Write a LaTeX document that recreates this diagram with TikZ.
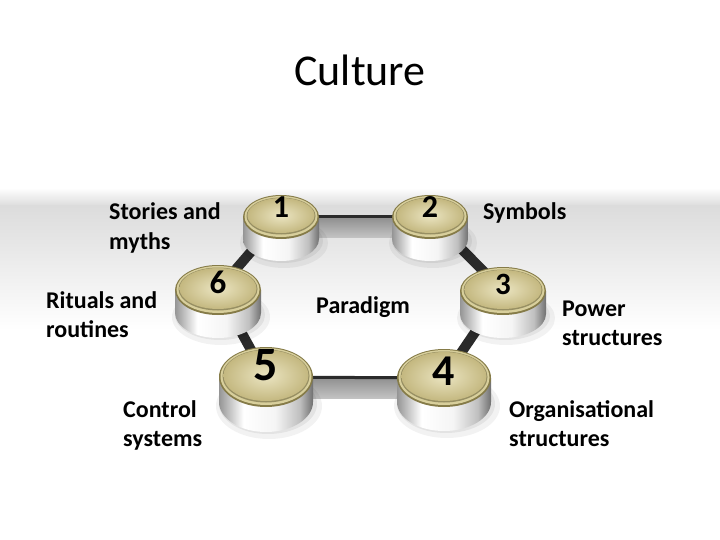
\documentclass[tikz,border=0pt]{standalone}
\usepackage{fontspec}
\setmainfont{Carlito}
\definecolor{bandgrey}{HTML}{DCDCDC}
\definecolor{barDark}{HTML}{2B2B2B}
\definecolor{barTop}{HTML}{8E8E8E}
\definecolor{barBot}{HTML}{C2C2C2}
\definecolor{sideL}{HTML}{959595}
\definecolor{sideR}{HTML}{707070}
\definecolor{rimD}{HTML}{857B48}
\definecolor{rimL}{HTML}{D8CF9C}
\definecolor{faceL}{HTML}{EBE5C2}
\definecolor{faceD}{HTML}{C4B880}
\pgfdeclarehorizontalshading{cylside}{100bp}{color(0bp)=(sideL); color(25bp)=(sideL); color(38bp)=(white); color(55bp)=(white!96!black); color(68bp)=(white!75!black); color(75bp)=(sideR); color(100bp)=(sideR)}
\newcommand\cylbtn[9]{%
  \fill[black,opacity=0.05] (#2+3,#3+#6+4) ellipse[x radius=#4pt+6pt,y radius=#5pt+3pt];
  \fill[black,opacity=0.06] (#2+2,#3+#6+2) ellipse[x radius=#4pt+2pt,y radius=#5pt];
  \path[shading=cylside]
    (#2-#4,#3) -- (#2-#4,#3+#6)
    arc[start angle=180,end angle=360,x radius=#4pt,y radius=#5pt]
    -- (#2+#4,#3) -- cycle;
  \fill[rimD] (#2,#3) ellipse[x radius=#4pt,y radius=#5pt];
  \fill[rimL] (#2,#3-0.5) ellipse[x radius=#4pt-1.5pt,y radius=#5pt-1.5pt];
  \fill[rimD!85] (#2,#3-1) ellipse[x radius=#4pt-3.5pt,y radius=#5pt-3.5pt];
  \path[inner color=faceL, outer color=faceD] (#2,#3-1.5) ellipse[x radius=#4pt-4.5pt,y radius=#5pt-4.5pt];
  \node[num,font=\bfseries\fontsize{#8}{#8}\selectfont] (#1) at (#2,#3+#9) {#7};
}
\begin{document}
\begin{tikzpicture}[x=1pt,y=-1pt,
  lbl/.style={font=\bfseries\fontsize{24}{29}\selectfont, align=left, anchor=base west, inner sep=0pt},
  num/.style={text=black, inner sep=0pt},
  dbar/.style={line width=10pt, draw=barDark},
  hbar/.style={top color=barTop, bottom color=barBot},
  hedge/.style={line width=3pt, draw=barDark}]
\useasboundingbox (0,0) rectangle (720,540);
\fill[white] (0,0) rectangle (720,540);
% background band
\fill[top color=white, bottom color=bandgrey] (0,188) rectangle (720,206);
\fill[top color=bandgrey, bottom color=white] (0,206) rectangle (720,330);
% button centres
\coordinate (c1) at (281,217);
\coordinate (c2) at (430,217);
\coordinate (c3) at (503,291);
\coordinate (c4) at (444,378);
\coordinate (c5) at (266,377);
\coordinate (c6) at (218,290);
% connectors
\fill[hbar] (c1) rectangle ([yshift=-20pt]c2);
\draw[hedge] (c1) -- (c2);
\fill[hbar] (c5) rectangle ([yshift=-20pt]c4);
\draw[hedge] (c5) -- (c4);
\draw[dbar] (c1) -- (c6);
\draw[dbar] (c6) -- (c5);
\draw[dbar] (c2) -- (c3);
\draw[dbar] (c3) -- (c4);
% buttons
\cylbtn{n1}{281}{217}{38}{22}{22}{1}{32}{-10}
\cylbtn{n2}{430}{217}{38}{22}{22}{2}{32}{-10}
\cylbtn{n6}{218}{290}{43}{25}{23}{6}{33}{-8}
\cylbtn{n3}{503}{291}{43}{24}{23}{3}{31}{-7}
\cylbtn{n5}{266}{377}{47}{30}{25}{5}{48}{-12}
\cylbtn{n4}{444}{378}{47}{29}{24}{4}{44}{-7}
% texts
\node[font=\fontsize{44}{53}\selectfont, anchor=base, inner sep=0pt] (title) at (360,86) {Culture};
\node[lbl] (l1) at (109,249) {Stories and\\myths};
\node[lbl] (l2) at (483,220) {Symbols};
\node[lbl] (l3) at (562,345) {Power\\structures};
\node[lbl] (l4) at (509,446) {Organisational\\structures};
\node[lbl] (l5) at (123,446) {Control\\systems};
\node[lbl] (l6) at (46,337) {Rituals and\\routines};
\node[lbl] (par) at (316,313) {Paradigm};
\end{tikzpicture}
\end{document}
